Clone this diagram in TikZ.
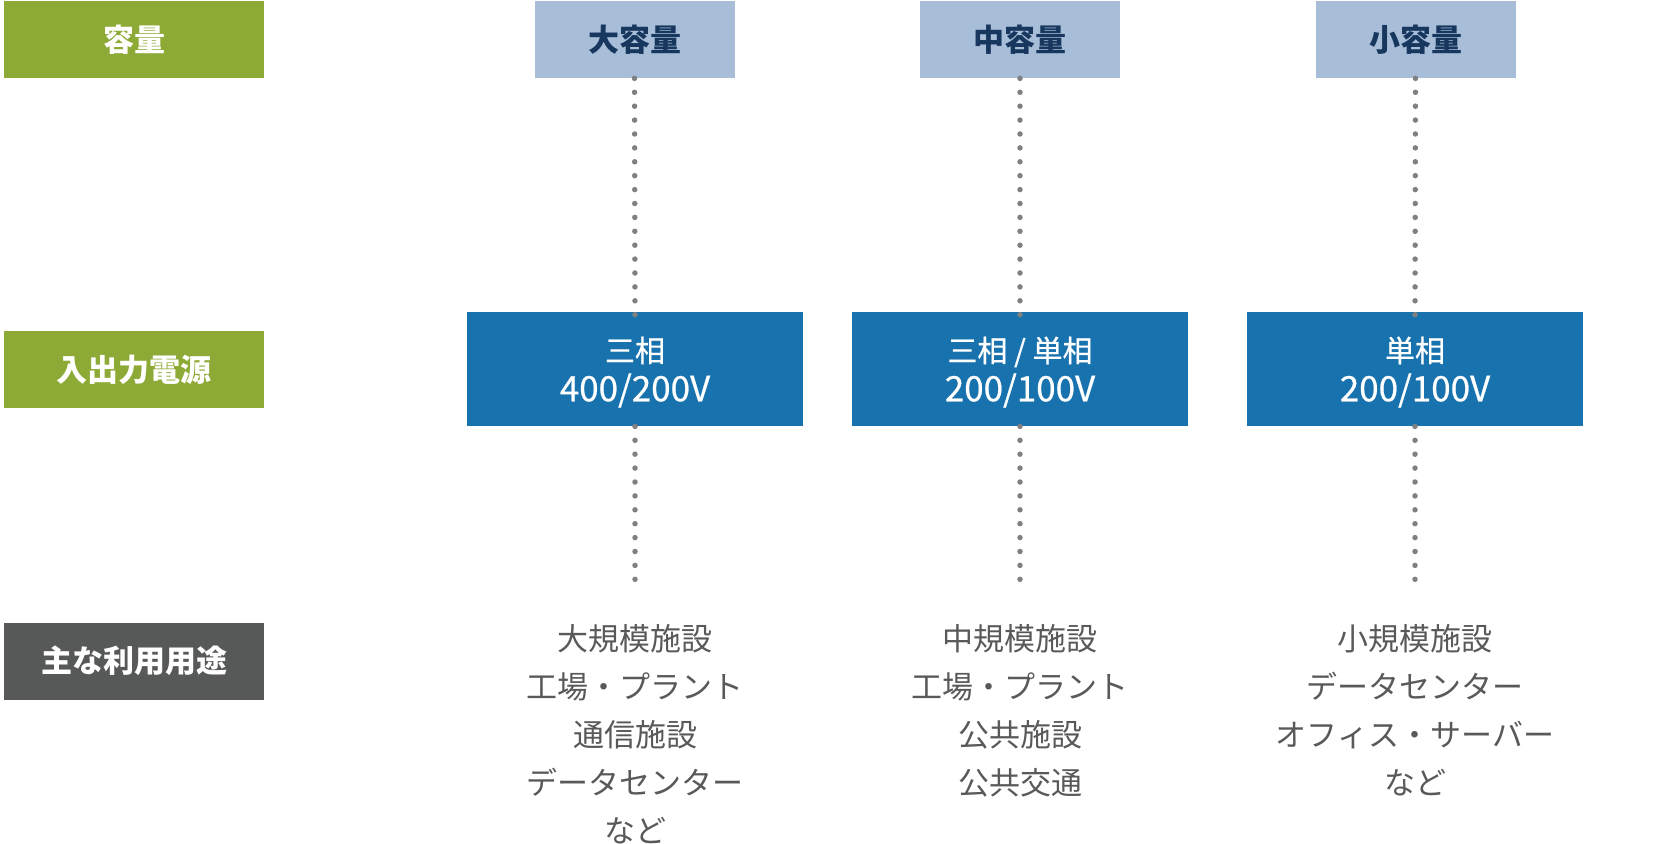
\documentclass[tikz,border=0pt]{standalone}
\usepackage{fontspec}
\setmainfont{Noto Sans CJK JP}
\newfontfamily\voltfont{Noto Sans CJK JP}[FakeBold=0.6]

\definecolor{capgreen}{HTML}{8EAA36}
\definecolor{usegrey}{HTML}{575858}
\definecolor{headblue}{HTML}{A8BED8}
\definecolor{headnavy}{HTML}{17375E}
\definecolor{voltblue}{HTML}{1772AE}
\definecolor{textgrey}{HTML}{595959}
\definecolor{dotgrey}{HTML}{808080}

\tikzset{
    rowlabel/.style={fill=capgreen, text=white, inner sep=0pt,
        minimum width=130pt, minimum height=38.5pt,
        font=\fontsize{15.5pt}{18pt}\selectfont\bfseries},
    uselabel/.style={rowlabel, fill=usegrey},
    capbox/.style={fill=headblue, text=headnavy, inner sep=0pt,
        minimum width=100pt, minimum height=38.5pt,
        font=\fontsize{15.5pt}{18pt}\selectfont\bfseries},
    voltbox/.style={fill=voltblue, text=white, align=center, inner sep=0pt,
        minimum width=168pt, minimum height=57pt, text height=35.4pt,
        font=\voltfont\fontsize{15pt}{19.7pt}\selectfont},
    usetext/.style={text=textgrey, align=center, anchor=north, inner sep=0pt,
        font=\fontsize{15.5pt}{24pt}\selectfont},
    dotline/.style={draw=dotgrey, line width=2.75pt, line cap=round,
        dash pattern=on 0pt off 6.95pt},
}
\newcommand{\voltline}[1]{\fontsize{17.5pt}{19.7pt}\selectfont #1}

\begin{document}
\begin{tikzpicture}[x=0.5pt, y=-0.5pt]
    \useasboundingbox (0, 0) rectangle (1654, 844);

    % row labels
    \node[rowlabel] (caplabel) at (134, 39.5) {容量};
    \node[rowlabel] (powerlabel) at (134, 369.5) {入出力電源};
    \node[uselabel] (uselabel) at (134, 661) {主な利用用途};

    % capacity
    \node[capbox] (bighead) at (634.5, 39.5) {大容量};
    \node[capbox] (midhead) at (1020, 39.5) {中容量};
    \node[capbox] (smallhead) at (1415.5, 39.5) {小容量};

    % input / output voltage
    \node[voltbox] (bigvolt) at (635, 369) {三相\\\voltline{400/200V}};
    \node[voltbox] (midvolt) at (1020, 369) {三相 / 単相\\\voltline{200/100V}};
    \node[voltbox] (smallvolt) at (1415, 369) {単相\\\voltline{200/100V}};

    \coordinate (bigend) at (635, 579.5);
    \coordinate (midend) at (1020, 579.5);
    \coordinate (smallend) at (1415, 579.5);

    \draw[dotline] (bighead.south) -- ([yshift=-4pt]bigvolt.north);
    \draw[dotline] (midhead.south) -- ([yshift=-4pt]midvolt.north);
    \draw[dotline] (smallhead.south) -- ([yshift=-4pt]smallvolt.north);
    \draw[dotline] (bigvolt.south) -- (bigend);
    \draw[dotline] (midvolt.south) -- (midend);
    \draw[dotline] (smallvolt.south) -- (smallend);

    % main uses
    \node[usetext] (biguse) at (635, 624) {大規模施設\\工場・プラント\\通信施設\\データセンター\\など};
    \node[usetext] (miduse) at (1020, 624) {中規模施設\\工場・プラント\\公共施設\\公共交通};
    \node[usetext] (smalluse) at (1415, 624) {小規模施設\\データセンター\\オフィス・サーバー\\など};
\end{tikzpicture}
\end{document}
